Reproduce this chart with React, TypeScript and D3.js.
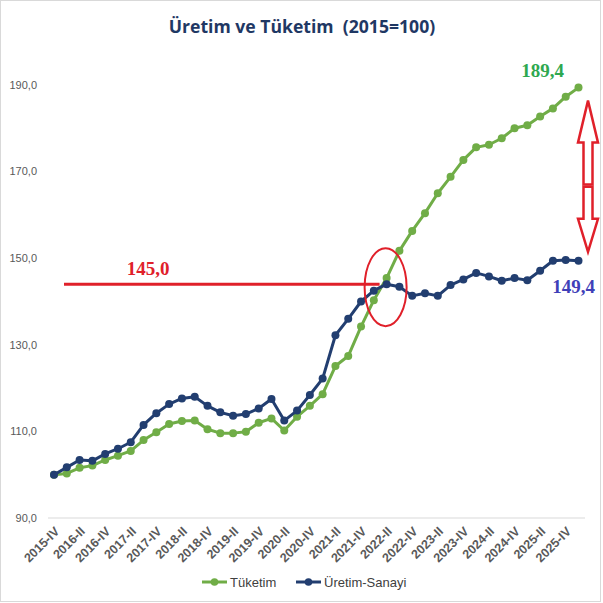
import React, { useEffect, useRef } from 'react';
import * as d3 from 'd3';

const categories = [
  '2015-IV', '2016-I', '2016-II', '2016-III', '2016-IV', '2017-I', '2017-II', '2017-III', '2017-IV',
  '2018-I', '2018-II', '2018-III', '2018-IV', '2019-I', '2019-II', '2019-III', '2019-IV',
  '2020-I', '2020-II', '2020-III', '2020-IV', '2021-I', '2021-II', '2021-III', '2021-IV',
  '2022-I', '2022-II', '2022-III', '2022-IV', '2023-I', '2023-II', '2023-III', '2023-IV',
  '2024-I', '2024-II', '2024-III', '2024-IV', '2025-I', '2025-II', '2025-III', '2025-IV', '2026-I',
];

const tuketim = [
  100.0, 100.3, 101.6, 102.1, 103.4, 104.4, 105.5, 108.0, 109.8, 111.7, 112.4, 112.5, 110.5, 109.6,
  109.6, 109.9, 112.0, 113.0, 110.2, 113.4, 115.9, 118.6, 125.1, 127.4, 134.2, 140.3, 145.4, 151.7,
  156.3, 160.4, 165.0, 168.8, 172.7, 175.6, 176.2, 177.7, 180.0, 180.7, 182.7, 184.6, 187.3, 189.4,
];

const uretim = [
  100.0, 101.7, 103.4, 103.2, 104.8, 106.0, 107.5, 111.5, 114.2, 116.3, 117.6, 118.0, 115.9, 114.4,
  113.6, 114.0, 115.3, 117.5, 112.5, 114.8, 118.4, 122.2, 132.2, 136.0, 140.0, 142.5, 144.0, 143.4,
  141.3, 141.9, 141.3, 143.8, 145.1, 146.6, 145.8, 144.8, 145.4, 144.9, 147.1, 149.4, 149.6, 149.4,
];

const yTicks = [90, 110, 130, 150, 170, 190];
const seriesNames = ['Tüketim', 'Üretim-Sanayi'];
const seriesColors = ['#70ad47', '#223e70'];
const refLabel = '145,0';

const fmt = (v: number) => v.toFixed(1).replace('.', ',');

const App = () => {
  const svgRef = useRef(null);

  useEffect(() => {
    const width = 603;
    const height = 603;
    const svg = d3.select(svgRef.current);
    svg.selectAll('*').remove();
    svg.attr('width', width).attr('height', height);

    svg.append('rect')
      .attr('x', 0.5).attr('y', 0.5)
      .attr('width', 600).attr('height', 601)
      .attr('fill', '#fff').attr('stroke', '#d9d9d9');

    const x = d3.scalePoint<number>()
      .domain(d3.range(categories.length))
      .range([54, 578.5]);
    const y = d3.scaleLinear().domain([90, 190]).range([518, 85]);

    // title
    svg.append('text')
      .attr('x', 302).attr('y', 33)
      .attr('text-anchor', 'middle')
      .attr('font-family', 'Open Sans, sans-serif')
      .attr('font-weight', 'bold')
      .attr('font-size', 17.6)
      .attr('fill', '#1f3864')
      .style('white-space', 'pre')
      .text('Üretim ve Tüketim  (2015=100)');

    // baseline
    svg.append('line')
      .attr('x1', 48).attr('x2', 585)
      .attr('y1', y(90)).attr('y2', y(90))
      .attr('stroke', '#d9d9d9');

    // y labels
    svg.append('g')
      .selectAll('text')
      .data(yTicks)
      .enter()
      .append('text')
      .attr('x', 37)
      .attr('y', (d) => y(d))
      .attr('dy', '0.35em')
      .attr('text-anchor', 'end')
      .attr('font-family', 'Liberation Sans, Arial, sans-serif')
      .attr('font-size', 11)
      .attr('fill', '#595959')
      .text((d) => fmt(d));

    // x labels, every second category
    svg.append('g')
      .selectAll('text')
      .data(categories.map((c, i) => ({ c, i })).filter((d) => d.i % 2 === 0))
      .enter()
      .append('text')
      .attr('transform', (d) => `translate(${x(d.i)! + 3}, 529) rotate(-45)`)
      .attr('text-anchor', 'end')
      .attr('dy', '0.35em')
      .attr('font-family', 'Liberation Sans, Arial, sans-serif')
      .attr('font-weight', 'bold')
      .attr('font-size', 12.5)
      .attr('fill', '#595959')
      .text((d) => d.c);

    const line = d3.line<number>()
      .x((_, i) => x(i)!)
      .y((d) => y(d));

    [tuketim, uretim].forEach((data, s) => {
      const g = svg.append('g');
      g.append('path')
        .datum(data)
        .attr('d', line)
        .attr('fill', 'none')
        .attr('stroke', seriesColors[s])
        .attr('stroke-width', 3)
        .attr('stroke-linejoin', 'round');
      g.selectAll('circle')
        .data(data)
        .enter()
        .append('circle')
        .attr('cx', (_, i) => x(i)!)
        .attr('cy', (d) => y(d))
        .attr('r', 4)
        .attr('fill', seriesColors[s]);
    });

    // legend
    const legendX = [202, 296];
    seriesNames.forEach((name, s) => {
      const lg = svg.append('g').attr('transform', `translate(${legendX[s]}, 582)`);
      lg.append('line')
        .attr('x1', 0).attr('x2', 25)
        .attr('stroke', seriesColors[s]).attr('stroke-width', 3);
      lg.append('circle').attr('cx', 12.5).attr('r', 3.8).attr('fill', seriesColors[s]);
      lg.append('text')
        .attr('x', 28).attr('dy', '0.35em')
        .attr('font-family', 'Liberation Sans, Arial, sans-serif')
        .attr('font-size', 13)
        .attr('fill', '#404040')
        .text(name);
    });

    // annotations
    const last = categories.length - 1;
    const peakIdx = d3.maxIndex(uretim.slice(0, 30));
    const refY = y(uretim[peakIdx]);
    svg.append('line')
      .attr('x1', x(0)! + 10).attr('x2', x(peakIdx)! - 7)
      .attr('y1', refY).attr('y2', refY)
      .attr('stroke', '#e0202a').attr('stroke-width', 3);
    svg.append('text')
      .attr('x', 148).attr('y', refY - 9)
      .attr('text-anchor', 'middle')
      .attr('font-family', 'Liberation Serif, Times New Roman, serif')
      .attr('font-weight', 'bold')
      .attr('font-size', 19)
      .attr('fill', '#e0202a')
      .text(refLabel);
    svg.append('ellipse')
      .attr('cx', x(peakIdx)! - 1).attr('cy', refY + 3)
      .attr('rx', 21).attr('ry', 39)
      .attr('fill', 'none')
      .attr('stroke', '#e0202a').attr('stroke-width', 2);

    svg.append('text')
      .attr('x', x(last)! - 36).attr('y', y(tuketim[last]) - 11)
      .attr('text-anchor', 'middle')
      .attr('font-family', 'Liberation Serif, Times New Roman, serif')
      .attr('font-weight', 'bold')
      .attr('font-size', 19)
      .attr('fill', '#2ea84f')
      .text(fmt(tuketim[last]));
    svg.append('text')
      .attr('x', x(last)! - 5).attr('y', y(uretim[last]) + 32)
      .attr('text-anchor', 'middle')
      .attr('font-family', 'Liberation Serif, Times New Roman, serif')
      .attr('font-weight', 'bold')
      .attr('font-size', 19)
      .attr('fill', '#3f3fb8')
      .text(fmt(uretim[last]));

    // double arrow between the two end values: up arrow on top, down arrow below
    const ax = x(last)! + 9.5;
    const top = y(tuketim[last]) + 13;
    const bottom = y(uretim[last]) - 9;
    const hw = 10;
    const sw = 4.5;
    const arrow = (tip: number, headBase: number, base: number) =>
      `M${ax},${tip} L${ax + hw},${headBase} L${ax + sw},${headBase} L${ax + sw},${base} ` +
      `L${ax - sw},${base} L${ax - sw},${headBase} L${ax - hw},${headBase} Z`;
    svg.append('path')
      .attr('d', arrow(top, top + 42, top + 84))
      .attr('fill', '#fff').attr('stroke', '#e0202a').attr('stroke-width', 2.5)
      .attr('stroke-linejoin', 'miter');
    svg.append('path')
      .attr('d', arrow(bottom, bottom - 33, bottom - 65))
      .attr('fill', '#fff').attr('stroke', '#e0202a').attr('stroke-width', 2.5)
      .attr('stroke-linejoin', 'miter');
  }, []);

  return <svg ref={svgRef} style={{ position: 'absolute', left: 0, top: 0 }}></svg>;
};

export default App;
